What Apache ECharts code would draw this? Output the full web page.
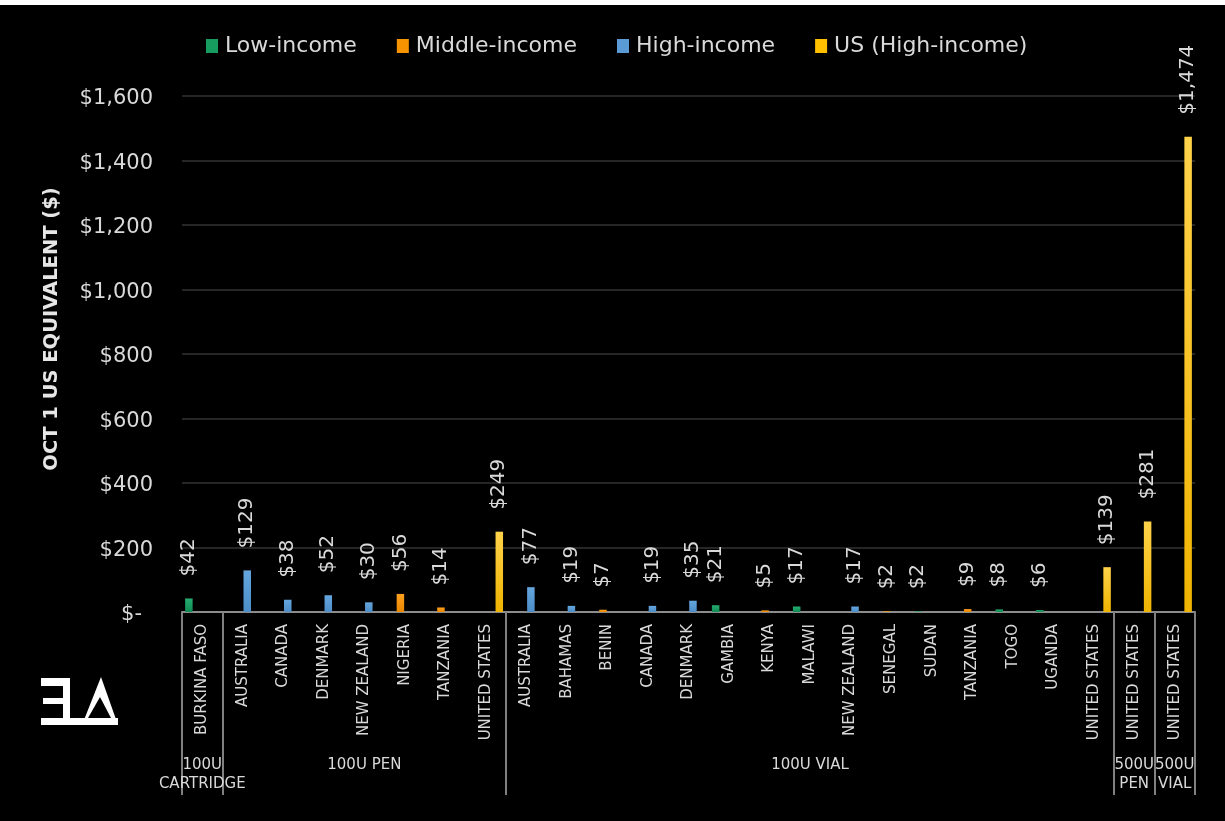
<!DOCTYPE html>
<html>
<head>
<meta charset="utf-8">
<script src="https://cdn.jsdelivr.net/npm/echarts@6/dist/echarts.min.js"></script>
<style>
  html, body { margin: 0; padding: 0; background: #000; }
  #chart { width: 1225px; height: 821px; }
</style>
</head>
<body>
<div id="chart"></div>
<script>
// Countries, in plotting order
const countries = [
  'BURKINA FASO',
  'AUSTRALIA', 'CANADA', 'DENMARK', 'NEW ZEALAND', 'NIGERIA', 'TANZANIA', 'UNITED STATES',
  'AUSTRALIA', 'BAHAMAS', 'BENIN', 'CANADA', 'DENMARK', 'GAMBIA', 'KENYA', 'MALAWI',
  'NEW ZEALAND', 'SENEGAL', 'SUDAN', 'TANZANIA', 'TOGO', 'UGANDA', 'UNITED STATES',
  'UNITED STATES',
  'UNITED STATES'
];

// Product groups and how many countries each one spans
const productNames = ['100U\nCARTRIDGE', '100U PEN', '100U VIAL', '500U\nPEN', '500U\nVIAL'];
const productSizes = [1, 7, 15, 1, 1];

// Price (Oct 1, US$ equivalent) by income group
const lowIncome    = [42,  null, null, null, null, null, null, null,  null, null, null, null, null, 21, null, 17, null, null, 2, null, 8, 6, null,  null,  null];
const middleIncome = [null, null, null, null, null, 56, 14, null,  null, null, 7, null, null, null, 5, null, null, 2, null, 9, null, null, null,  null,  null];
const highIncome   = [null, 129, 38, 52, 30, null, null, null,  77, 19, null, 19, 35, null, null, null, 17, null, null, null, null, null, null,  null,  null];
const usHighIncome = [null, null, null, null, null, null, null, 249,  null, null, null, null, null, null, null, null, null, null, null, null, null, null, 139,  281,  1474];

const seriesNames = ['Low-income', 'Middle-income', 'High-income', 'US (High-income)'];
const yTicks = { min: 0, max: 1600, interval: 200 };

// Per-country product label, plus the boundary / centre indices of each product group
const productOfCountry = [];
const groupStarts = [];
const groupCentres = [];
productSizes.forEach((n, g) => {
  groupStarts.push(productOfCountry.length);
  groupCentres.push(productOfCountry.length + Math.floor(n / 2));
  for (let i = 0; i < n; i++) productOfCountry.push(productNames[g]);
});

const FONT = '"DejaVu Sans", sans-serif';
const TXT = '#d9d9d9';

function grad(top, bottom) {
  return new echarts.graphic.LinearGradient(0, 0, 0, 1, [
    { offset: 0, color: top }, { offset: 1, color: bottom }
  ]);
}
const fills = [
  grad('#25ad70', '#118a54'),
  grad('#ffa01f', '#e88800'),
  grad('#66a6de', '#4d8dc8'),
  grad('#ffd24a', '#efb300')
];
const legendColors = ['#179c5f', '#f59300', '#5b9bd5', '#ffc000'];

const money = v => '$' + Number(v).toLocaleString('en-US');

const dataSets = [lowIncome, middleIncome, highIncome, usHighIncome];
const series = dataSets.map((d, i) => ({
  name: seriesNames[i],
  type: 'bar',
  xAxisIndex: 0,
  data: d,
  barWidth: 7.5,
  barGap: '19%',
  itemStyle: { color: fills[i] },
  label: {
    show: true,
    position: 'top',
    rotate: 90,
    align: 'left',
    verticalAlign: 'middle',
    distance: 22,
    color: TXT,
    fontFamily: FONT,
    fontSize: 20,
    formatter: p => (p.value == null ? '' : money(p.value))
  }
}));

const chart = echarts.init(document.getElementById('chart'), null, { renderer: 'canvas' });
chart.setOption({
  backgroundColor: '#000',
  animation: false,
  textStyle: { fontFamily: FONT },
  legend: {
    left: 201,
    top: 30,
    itemWidth: 12,
    itemHeight: 14,
    itemGap: 40,
    icon: 'rect',
    data: seriesNames.map((n, i) => ({ name: n, itemStyle: { color: legendColors[i] } })),
    textStyle: { color: TXT, fontSize: 22, fontFamily: FONT, padding: [0, 0, 0, 2] }
  },
  grid: { left: 182, right: 30, top: 96, bottom: 209, containLabel: false },
  xAxis: [
    {
      type: 'category',
      position: 'bottom',
      data: countries,
      axisLine: { show: true, lineStyle: { color: '#8c8c8c', width: 2 } },
      axisTick: { show: false },
      axisLabel: {
        interval: 0,
        rotate: 90,
        margin: 12,
        color: TXT,
        fontFamily: FONT,
        fontSize: 15
      }
    },
    {
      type: 'category',
      position: 'bottom',
      data: productOfCountry,
      axisLine: { show: false },
      axisTick: {
        show: true,
        length: 183,
        interval: idx => groupStarts.includes(idx),
        lineStyle: { color: '#808080', width: 2 }
      },
      axisLabel: {
        interval: idx => groupCentres.includes(idx),
        margin: 144,
        color: TXT,
        fontFamily: FONT,
        fontSize: 15,
        lineHeight: 19
      }
    }
  ],
  yAxis: {
    type: 'value',
    min: yTicks.min,
    max: yTicks.max,
    interval: yTicks.interval,
    name: 'OCT 1 US EQUIVALENT ($)',
    nameLocation: 'middle',
    nameGap: 120,
    nameTextStyle: {
      color: '#e6e6e6',
      fontFamily: FONT,
      fontSize: 19.5,
      fontWeight: 'bold',
      padding: [0, 0, 0, 50]
    },
    axisLine: { show: false },
    axisTick: { show: false },
    splitLine: { lineStyle: { color: '#262626', width: 2 } },
    axisLabel: {
      margin: 29,
      color: TXT,
      fontFamily: FONT,
      fontSize: 21,
      padding: [6, 0, 0, 0],
      formatter: v => (v === 0 ? '{z|$-}' : money(v)),
      rich: { z: { color: TXT, fontFamily: FONT, fontSize: 21, padding: [0, 11, 0, 0] } }
    }
  },
  series: series,
  graphic: [
    // thin white strip along the top edge
    { type: 'rect', left: 0, top: 0, shape: { width: 1225, height: 5 }, style: { fill: '#fff' }, silent: true },
    // logo: mirrored E joined to a triangle
    {
      type: 'group', silent: true,
      children: [
        { type: 'rect', shape: { x: 41, y: 678, width: 29, height: 8 }, style: { fill: '#fff' } },
        { type: 'rect', shape: { x: 63, y: 678, width: 7, height: 47 }, style: { fill: '#fff' } },
        { type: 'rect', shape: { x: 43, y: 698, width: 21, height: 6 }, style: { fill: '#fff' } },
        { type: 'rect', shape: { x: 41, y: 718, width: 77, height: 7 }, style: { fill: '#fff' } },
        { type: 'polygon', shape: { points: [[101, 677], [82, 725], [118, 725]] }, style: { fill: '#fff' } },
        { type: 'polygon', shape: { points: [[100, 697], [88, 718], [111, 718]] }, style: { fill: '#000' } }
      ]
    }
  ]
});
</script>
</body>
</html>
